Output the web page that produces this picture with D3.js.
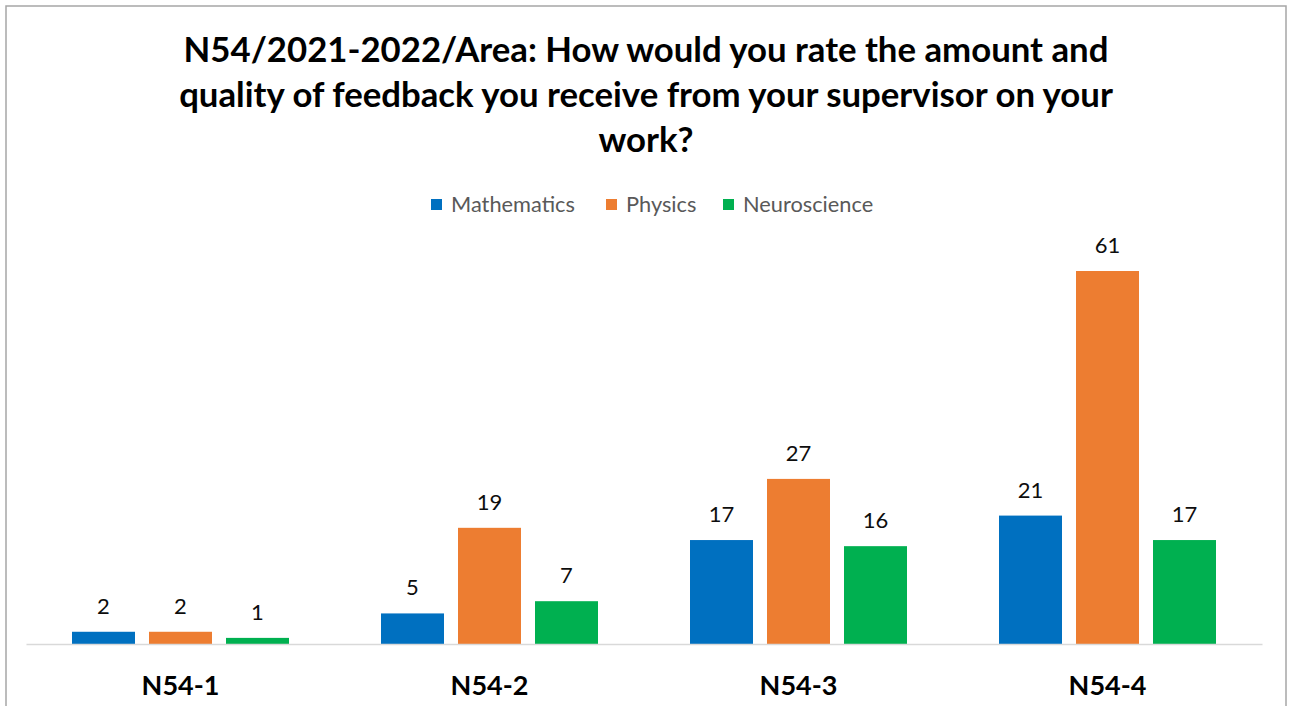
<!DOCTYPE html>
<html>
<head>
<meta charset="utf-8">
<script src="https://cdn.jsdelivr.net/npm/d3@7"></script>
<style>
  html, body { margin: 0; padding: 0; background: #fff; }
  svg { display: block; }
  text { font-family: Lato, "Open Sans", "Liberation Sans", sans-serif; }
</style>
</head>
<body>
<svg id="chart" width="1292" height="706"></svg>
<script>
const titleLines = [
  "N54/2021-2022/Area: How would you rate the amount and",
  "quality of feedback you receive from your supervisor on your",
  "work?"
];
const categories = ["N54-1", "N54-2", "N54-3", "N54-4"];
const seriesNames = ["Mathematics", "Physics", "Neuroscience"];
const mathematics = [2, 5, 17, 21];
const physics = [2, 19, 27, 61];
const neuroscience = [1, 7, 16, 17];
const colors = ["#0070C0", "#ED7D31", "#00B050"];

const seriesValues = [mathematics, physics, neuroscience];
const data = categories.map((c, i) => ({
  cat: c,
  values: seriesNames.map((s, j) => ({ series: s, idx: j, value: seriesValues[j][i] }))
}));

const svg = d3.select("#chart");

// outer border
svg.append("rect").attr("x", 6).attr("y", 6).attr("width", 1280).attr("height", 760)
  .attr("fill", "#fff").attr("stroke", "#a6a6a6").attr("stroke-width", 1.5);

function fitWidth(sel, target) {
  const fs = parseFloat(sel.attr("font-size"));
  const w = sel.node().getComputedTextLength();
  sel.attr("font-size", fs * target / w);
  return fs * target / w;
}

// title
const titleBaselines = [62, 107, 152];
let titleFs = null;
titleLines.forEach((t, i) => {
  const tx = svg.append("text").attr("x", 646).attr("y", titleBaselines[i])
    .attr("text-anchor", "middle").attr("font-weight", "bold")
    .attr("font-size", 32).attr("fill", "#000").text(t);
  if (i === 0) titleFs = fitWidth(tx, 925);
  else tx.attr("font-size", titleFs);
});

// scales
const x0 = d3.scaleBand().domain(categories).range([26, 1262]).paddingInner(0).paddingOuter(0);
const innerPad = 46;
const x1 = d3.scaleBand().domain(seriesNames).range([innerPad, x0.bandwidth() - innerPad]).paddingInner(14 / 77).paddingOuter(0);
const y = d3.scaleLinear().domain([0, 61]).range([644, 271]);

// bars
const groups = svg.append("g").selectAll("g").data(data).join("g")
  .attr("transform", d => `translate(${x0(d.cat)},0)`);
groups.selectAll("rect").data(d => d.values).join("rect")
  .attr("x", d => x1(d.series))
  .attr("y", d => y(d.value))
  .attr("width", x1.bandwidth())
  .attr("height", d => y(0) - y(d.value))
  .attr("fill", d => colors[d.idx]);
groups.selectAll("text.val").data(d => d.values).join("text")
  .attr("class", "val")
  .attr("x", d => x1(d.series) + x1.bandwidth() / 2)
  .attr("y", d => y(d.value) - 18)
  .attr("text-anchor", "middle")
  .attr("font-size", 22)
  .attr("fill", "#0d0d0d")
  .text(d => d.value);

// axis
const xAxis = d3.axisBottom(x0).tickSize(0).tickPadding(0);
const ax = svg.append("g").attr("transform", `translate(0,${y(0)})`).call(xAxis);
ax.select(".domain").attr("stroke", "#d9d9d9").attr("stroke-width", 1.5);
ax.selectAll(".tick text")
  .attr("y", 51).attr("dy", 0)
  .attr("font-size", 27).attr("font-weight", "bold").attr("fill", "#000")
  .style("font-family", "Lato, 'Open Sans', 'Liberation Sans', sans-serif");

// legend
const legendItems = [
  { name: seriesNames[0], sx: 431, tx: 451 },
  { name: seriesNames[1], sx: 606, tx: 626 },
  { name: seriesNames[2], sx: 723, tx: 743 }
];
const lg = svg.append("g");
let legendFs = null;
legendItems.forEach((it, i) => {
  lg.append("rect").attr("x", it.sx).attr("y", 199).attr("width", 11).attr("height", 11).attr("fill", colors[i]);
  const t = lg.append("text").attr("x", it.tx).attr("y", 212).attr("font-size", 20).attr("fill", "#595959").text(it.name);
  if (i === 0) legendFs = fitWidth(t, 124);
  else t.attr("font-size", legendFs);
});
</script>
</body>
</html>
